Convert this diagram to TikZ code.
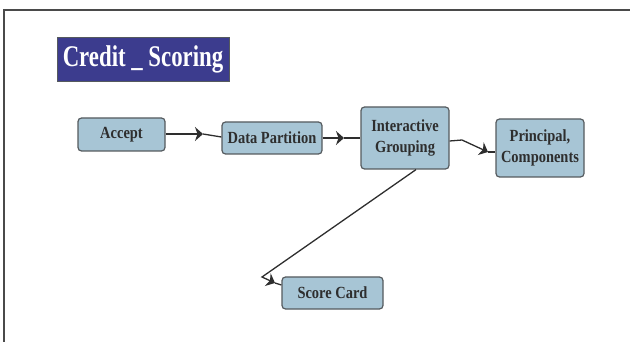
\documentclass[tikz,border=0pt]{standalone}
\usepackage{fontspec}
\setmainfont{Liberation Serif}[FakeStretch=0.85]
\newfontfamily\titlefont{Liberation Serif}[FakeStretch=0.76]
\usetikzlibrary{arrows.meta}
\definecolor{boxfill}{HTML}{A7C5D5}
\definecolor{boxline}{HTML}{555A5E}
\definecolor{titlefill}{HTML}{3C3C8E}
\definecolor{ink}{HTML}{2E2E2E}
\definecolor{frame}{HTML}{4A4A4A}
\tikzset{
  stepbox/.style={draw=boxline, line width=1.2pt, fill=boxfill, rounded corners=3.5pt,
    text=ink, font=\fontsize{17}{21}\selectfont\bfseries, align=center, inner sep=0pt},
  titlebox/.style={draw=boxline, line width=0.8pt, fill=titlefill, text=white,
    font=\titlefont\fontsize{30}{34}\selectfont\bfseries, inner sep=0pt,
    minimum width=172pt, minimum height=44pt},
  conn/.style={draw=ink, line width=1.3pt},
  tip/.style={conn, -{Stealth[length=8pt,width=14pt,inset=2.5pt]}}
}
\begin{document}
\begin{tikzpicture}[x=1pt, y=-1pt]
  \useasboundingbox (0,0) rectangle (630,342);
  % page frame (top and left edges)
  \draw[frame, line width=2.5pt] (4,342) -- (4,10) -- (630,10);

  % title
  \node[titlebox] (title) at (143,59) {Credit \_ Scoring};

  % process steps
  \node[stepbox, minimum width=87pt, minimum height=33pt] (accept) at (121.5,134.5) {Accept};
  \node[stepbox, minimum width=100pt, minimum height=32pt] (dp) at (272,138) {Data Partition};
  \node[stepbox, minimum width=88pt, minimum height=62pt] (ig) at (405,138) {Interactive\\Grouping};
  \node[stepbox, minimum width=88pt, minimum height=58pt] (pc) at (540,148) {Principal,\\Components};
  \node[stepbox, minimum width=101pt, minimum height=32pt] (sc) at (332.5,293) {Score Card};

  % bend points and arrow positions
  \coordinate (a1) at (203,134);
  \coordinate (a2) at (344,138);
  \coordinate (b1) at (462,140);
  \coordinate (a3) at (488,152);
  \coordinate (b2) at (262,277);
  \coordinate (a4) at (275,283);

  % Accept -> Data Partition
  \draw[tip] (accept.east |- a1) -- (a1);
  \draw[conn] (a1) -- (dp.west |- 0,137);
  % Data Partition -> Interactive Grouping
  \draw[tip] (dp.east) -- (a2);
  \draw[conn] (a2) -- (ig.west);
  % Interactive Grouping -> Principal, Components
  \draw[tip] (ig.east |- 0,141) -- (b1) -- (a3);
  \draw[conn] (a3) -- (pc.west |- a3);
  % Interactive Grouping -> Score Card
  \draw[tip] (ig.south -| 416,0) -- (b2) -- (a4);
  \draw[conn] (a4) -- (sc.west |- 0,285);
\end{tikzpicture}
\end{document}
